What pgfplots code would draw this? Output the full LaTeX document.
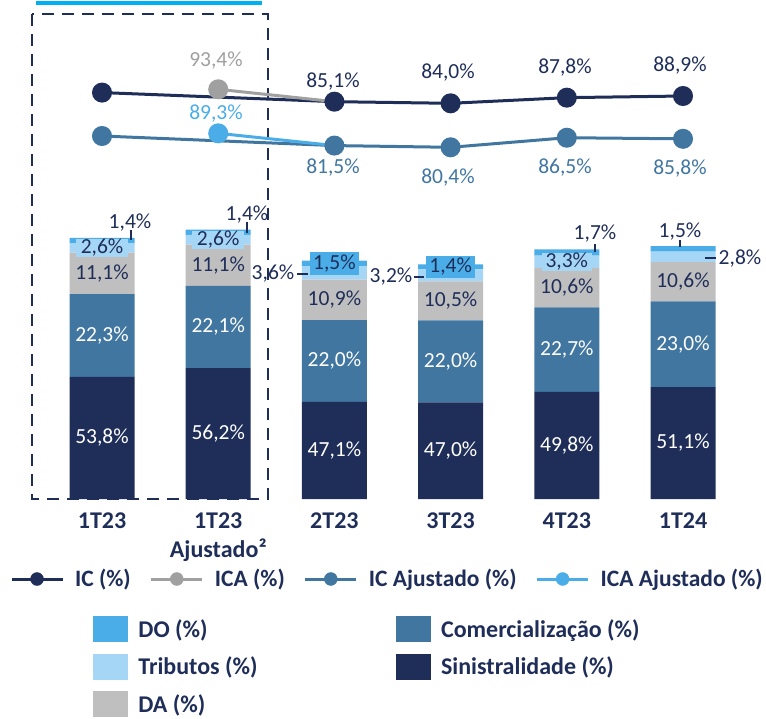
\documentclass[border=0pt]{standalone}
\usepackage{pgfplots}
\usepackage{pgfplotstable}
\pgfplotsset{compat=1.18}
\usepackage{fontspec}
\setmainfont{Carlito}
\definecolor{navy}{RGB}{31,46,89}
\definecolor{steel}{RGB}{64,118,160}
\definecolor{dagray}{RGB}{191,191,191}
\definecolor{trib}{RGB}{166,214,246}
\definecolor{dob}{RGB}{74,173,232}
\definecolor{icagray}{RGB}{160,160,160}
\definecolor{cyanline}{RGB}{0,176,240}
\newcommand{\lab}{\fontsize{21.5}{24}\selectfont}
\newcommand{\blab}{\fontsize{24}{27}\selectfont\bfseries}
\newcommand{\llab}{\fontsize{23.5}{27}\selectfont\bfseries}

\pgfplotstableread{
x S C DA T DO
0 53.8 22.3 11.1 2.6 1.4
1 56.2 22.1 11.1 2.6 1.4
2 47.1 22.0 10.9 3.6 1.5
3 47.0 22.0 10.5 3.2 1.4
4 49.8 22.7 10.6 3.3 1.7
5 51.1 23.0 10.6 2.8 1.5
}\bars

\begin{document}
\begin{tikzpicture}
\path[use as bounding box] (0pt,0pt) rectangle (766pt,-718pt);

% ---------------- bars ----------------
\begin{axis}[
  at={(32.3pt,-499pt)}, anchor=south west,
  scale only axis, width=720.44pt, height=372pt,
  xmin=-0.6, xmax=5.6, ymin=21, ymax=121,
  ybar stacked, bar width=65pt,
  axis line style={draw=none}, major tick length=0pt, ytick=\empty,
  xtick={0,1,2,3,4,5},
  xticklabels={1T23,{1T23\\[2pt]Ajustado²},2T23,3T23,4T23,1T24},
  xticklabel style={align=center, font=\blab, text=navy, yshift=-10pt},
  legend columns=2,
  legend style={draw=none, fill=none, inner sep=0pt, outer sep=0pt,
    at={(0.08425,-0.3155)}, anchor=north west,
    font=\blab, text=navy,
    nodes={inner sep=0pt, anchor=base west},
    /tikz/every odd column/.append style={column sep=11pt},
    /tikz/every even column/.append style={column sep=138pt},
    row sep=12pt},
  legend cell align=left,
]
\addplot[fill=navy, draw=none, forget plot] table[x=x,y=S]{\bars};
\addplot[fill=steel, draw=none, forget plot] table[x=x,y=C]{\bars};
\addplot[fill=dagray, draw=none, forget plot] table[x=x,y=DA]{\bars};
\addplot[fill=trib, draw=none, forget plot] table[x=x,y=T]{\bars};
\addplot[fill=dob, draw=none, forget plot] table[x=x,y=DO]{\bars};

\addlegendimage{legend image code/.code={\fill[dob] (0pt,-4pt) rectangle (34pt,21pt);}}
\addlegendentry{DO (\%)}
\addlegendimage{legend image code/.code={\fill[steel] (0pt,-4pt) rectangle (34pt,21pt);}}
\addlegendentry{Comercialização (\%)}
\addlegendimage{legend image code/.code={\fill[trib] (0pt,-4pt) rectangle (34pt,21pt);}}
\addlegendentry{Tributos (\%)}
\addlegendimage{legend image code/.code={\fill[navy] (0pt,-4pt) rectangle (34pt,21pt);}}
\addlegendentry{Sinistralidade (\%)}
\addlegendimage{legend image code/.code={\fill[dagray] (0pt,-4pt) rectangle (34pt,21pt);}}
\addlegendentry{DA (\%)}
\end{axis}

% ---------- overlay axis for bar labels (same geometry) ----------
\begin{axis}[
  at={(32.3pt,-499pt)}, anchor=south west,
  scale only axis, width=720.44pt, height=372pt,
  xmin=-0.6, xmax=5.6, ymin=21, ymax=121,
  hide axis, clip=false,
]
\node[font=\lab, text=white] at (axis cs:0,37.4) {53,8\%};
\node[font=\lab, text=white] at (axis cs:0,64.95) {22,3\%};
\node[font=\lab, text=navy] at (axis cs:0,81.65) {11,1\%};
\node[font=\lab, text=navy, fill=trib, inner xsep=5pt, inner ysep=0.5pt] at (axis cs:0,88.5) {2,6\%};
\node[font=\lab, text=white] at (axis cs:1,38.6) {56,2\%};
\node[font=\lab, text=white] at (axis cs:1,67.25) {22,1\%};
\node[font=\lab, text=navy] at (axis cs:1,83.85) {11,1\%};
\node[font=\lab, text=navy, fill=trib, inner xsep=5pt, inner ysep=0.5pt] at (axis cs:1,90.7) {2,6\%};
\node[font=\lab, text=white] at (axis cs:2,34.05) {47,1\%};
\node[font=\lab, text=white] at (axis cs:2,58.1) {22,0\%};
\node[font=\lab, text=navy] at (axis cs:2,74.55) {10,9\%};
\node[font=\lab, text=navy, fill=dob, inner xsep=3.5pt, inner ysep=3pt] at (axis cs:2,84.35) {1,5\%};
\node[font=\lab, text=white] at (axis cs:3,34.0) {47,0\%};
\node[font=\lab, text=white] at (axis cs:3,58.0) {22,0\%};
\node[font=\lab, text=navy] at (axis cs:3,74.25) {10,5\%};
\node[font=\lab, text=navy, fill=dob, inner xsep=3.5pt, inner ysep=2.5pt] at (axis cs:3,83.4) {1,4\%};
\node[font=\lab, text=white] at (axis cs:4,35.4) {49,8\%};
\node[font=\lab, text=white] at (axis cs:4,61.15) {22,7\%};
\node[font=\lab, text=navy] at (axis cs:4,77.8) {10,6\%};
\node[font=\lab, text=navy, fill=trib, inner xsep=4pt, inner ysep=0.5pt] at (axis cs:4,84.75) {3,3\%};
\node[font=\lab, text=white] at (axis cs:5,36.05) {51,1\%};
\node[font=\lab, text=white] at (axis cs:5,62.6) {23,0\%};
\node[font=\lab, text=navy] at (axis cs:5,79.4) {10,6\%};
\end{axis}

% outside small labels with leaders
\begin{scope}[every node/.style={font=\lab, text=navy}]
\node at (130pt,-223pt) {1,4\%};
\draw[navy, line width=1.2pt] (131pt,-230pt) -- (131pt,-240pt);
\node at (247pt,-215pt) {1,4\%};
\draw[navy, line width=1.2pt] (247pt,-222pt) -- (247pt,-233pt);
\node at (273pt,-274pt) {3,6\%};
\draw[navy, line width=1.2pt] (297pt,-274pt) -- (308pt,-274pt);
\node at (391pt,-277pt) {3,2\%};
\draw[navy, line width=1.2pt] (414pt,-277pt) -- (424pt,-277pt);
\node at (595pt,-234pt) {1,7\%};
\draw[navy, line width=1.2pt] (595pt,-244pt) -- (595pt,-252pt);
\node at (680pt,-232pt) {1,5\%};
\draw[navy, line width=1.2pt] (680pt,-240pt) -- (680pt,-247pt);
\node at (740pt,-259pt) {2,8\%};
\draw[navy, line width=1.2pt] (705pt,-258pt) -- (716pt,-258pt);
\end{scope}

% dashed box and top line
\draw[navy, line width=2.5pt, dash pattern=on 12pt off 8pt] (32pt,-14pt) rectangle (268pt,-499pt);
\draw[cyanline, line width=3.5pt] (36pt,-3pt) -- (262pt,-3pt);

% ---------------- IC / ICA ----------------
\begin{axis}[
  at={(32.3pt,-160pt)}, anchor=south west,
  scale only axis, width=720.44pt, height=100pt,
  xmin=-0.6, xmax=5.6, ymin=45.95, ymax=113.06,
  hide axis, clip=false,
  legend columns=4,
  legend style={draw=none, fill=none, inner sep=0pt, outer sep=0pt,
    at={(-0.03095,-4.18)}, anchor=west,
    font=\llab, text=navy,
    nodes={inner sep=0pt, anchor=base west},
    /tikz/every odd column/.append style={column sep=11pt},
    /tikz/every even column/.append style={column sep=19pt}},
]
\addplot[navy, line width=3pt, mark=*, mark size=8.5pt, forget plot] coordinates {(0,91.2) (2,85.1) (3,84.0) (4,87.8) (5,88.9)};
\addplot[icagray, line width=3pt, mark=*, mark size=8.5pt, mark indices={1}, forget plot] coordinates {(1,93.4) (2,85.1)};
\addlegendimage{legend image code/.code={\draw[navy, line width=3pt] (0pt,7pt) -- (51pt,7pt); \fill[navy] (25.5pt,7pt) circle (6.5pt);}}
\addlegendentry{IC (\%)}
\addlegendimage{legend image code/.code={\draw[icagray, line width=3pt] (0pt,7pt) -- (51pt,7pt); \fill[icagray] (25.5pt,7pt) circle (6.5pt);}}
\addlegendentry{ICA (\%)}
\addlegendimage{legend image code/.code={\draw[steel, line width=3pt] (0pt,7pt) -- (51pt,7pt); \fill[steel] (25.5pt,7pt) circle (6.5pt);}}
\addlegendentry{IC Ajustado (\%)}
\addlegendimage{legend image code/.code={\draw[dob, line width=3pt] (0pt,7pt) -- (51pt,7pt); \fill[dob] (25.5pt,7pt) circle (6.5pt);}}
\addlegendentry{ICA Ajustado (\%)}
\end{axis}

% ---------------- IC Ajustado / ICA Ajustado ----------------
\begin{axis}[
  at={(32.3pt,-160pt)}, anchor=south west,
  scale only axis, width=720.44pt, height=100pt,
  xmin=-0.6, xmax=5.6, ymin=72.31, ymax=136.0,
  hide axis, clip=false,
]
\addplot[steel, line width=3pt, mark=*, mark size=8.5pt] coordinates {(0,87.6) (2,81.5) (3,80.4) (4,86.5) (5,85.8)};
\addplot[dob, line width=3pt, mark=*, mark size=8.5pt, mark indices={1}] coordinates {(1,89.3) (2,81.5)};
\end{axis}

% line labels
\begin{scope}[every node/.style={font=\lab}]
\node[text=icagray] at (216pt,-61pt) {93,4\%};
\node[text=navy] at (333pt,-82pt) {85,1\%};
\node[text=navy] at (448pt,-73pt) {84,0\%};
\node[text=navy] at (565pt,-68pt) {87,8\%};
\node[text=navy] at (680pt,-66pt) {88,9\%};
\node[text=dob] at (216pt,-114pt) {89,3\%};
\node[text=steel] at (333pt,-168pt) {81,5\%};
\node[text=steel] at (448pt,-178pt) {80,4\%};
\node[text=steel] at (565pt,-168pt) {86,5\%};
\node[text=steel] at (680pt,-169pt) {85,8\%};
\end{scope}
\end{tikzpicture}
\end{document}
